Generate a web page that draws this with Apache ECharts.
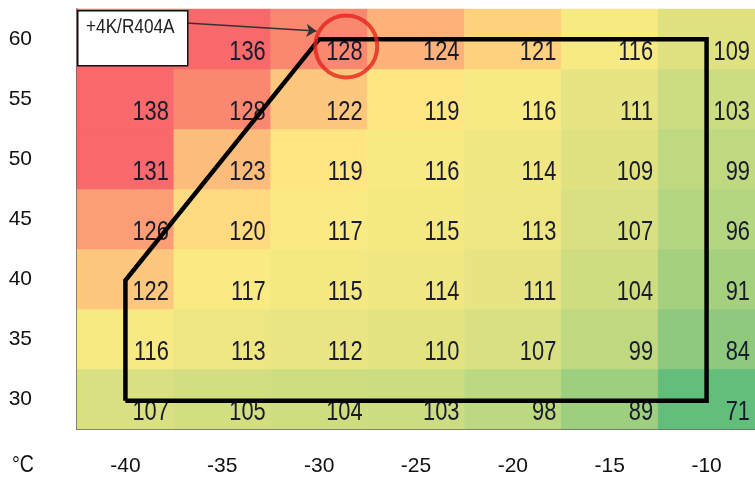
<!DOCTYPE html>
<html>
<head>
<meta charset="utf-8">
<script src="https://cdn.jsdelivr.net/npm/echarts@6/dist/echarts.min.js"></script>
<style>html,body{margin:0;padding:0;background:#fff}#c{width:755px;height:477px}</style>
</head>
<body>
<div id="c"></div>
<script>
// Evaporating temperature (°C) columns and condensing temperature rows
const xCats = ['-40', '-35', '-30', '-25', '-20', '-15', '-10'];
const yCats = ['30', '35', '40', '45', '50', '55', '60'];
// Values per row (left to right); first value of the 60 row is hidden under the label box (estimated)
const v60 = [144, 136, 128, 124, 121, 116, 109];
const v55 = [138, 128, 122, 119, 116, 111, 103];
const v50 = [131, 123, 119, 116, 114, 109, 99];
const v45 = [126, 120, 117, 115, 113, 107, 96];
const v40 = [122, 117, 115, 114, 111, 104, 91];
const v35 = [116, 113, 112, 110, 107, 99, 84];
const v30 = [107, 105, 104, 103, 98, 89, 71];
// Operating envelope outline (evap °C, cond °C)
const envelopeX = [-40, -40, -30, -10, -10, -40];
const envelopeY = [30, 40, 60, 60, 30, 30];
const labelText = '+4K/R404A';
// Annotation: highlighted point and arrow from label
const highlight = [[-28.6, 59.4]];
const arrowFrom = [-36.86, 61.34];
const arrowTo = [-30.14, 60.68];

const rowsBottomUp = [v30, v35, v40, v45, v50, v55, v60];
const heatData = [];
rowsBottomUp.forEach((row, yi) => row.forEach((v, xi) => heatData.push([xi, yi, v])));
const allVals = heatData.map(d => d[2]);
const vMin = Math.min(...allVals), vMax = Math.max(...allVals);

// colour scale: green -> yellow -> red
const G = [99, 190, 123], Y = [255, 235, 132], R = [248, 105, 107];
const yellowAt = 118.5, redAt = 131;
function lerp(a, b, t) { return a.map((x, i) => Math.round(x + (b[i] - x) * t)); }
function colorFor(v) {
  let c;
  if (v <= yellowAt) c = lerp(G, Y, Math.max(0, (v - vMin) / (yellowAt - vMin)));
  else c = lerp(Y, R, Math.min(1, (v - yellowAt) / (redAt - yellowAt)));
  return 'rgb(' + c.join(',') + ')';
}
const stops = [];
for (let v = vMin; v <= vMax; v++) stops.push(colorFor(v));

const FONT = "'Liberation Sans', Arial, sans-serif";
const NARROW = 0.78;
const gridPos = { left: 77, top: 9, width: 682.5, height: 422 };

const chart = echarts.init(document.getElementById('c'));
chart.setOption({
  animation: false,
  grid: [Object.assign({}, gridPos), Object.assign({}, gridPos)],
  xAxis: [
    { type: 'category', data: xCats, gridIndex: 0,
      axisLine: { lineStyle: { color: '#333', width: 1.5 } }, axisTick: { show: false },
      axisLabel: { color: '#111', fontFamily: FONT, fontSize: 21, margin: 27 }, splitLine: { show: false } },
    { type: 'value', gridIndex: 1, min: -42.5, max: -7.5, show: false }
  ],
  yAxis: [
    { type: 'category', data: yCats, gridIndex: 0,
      axisLine: { lineStyle: { color: '#333', width: 1.5 } }, axisTick: { show: false },
      axisLabel: { color: '#111', fontFamily: FONT, fontSize: 21, margin: 45, align: 'right', padding: [4, 0, 0, 0] }, splitLine: { show: false } },
    { type: 'value', gridIndex: 1, min: 27.5, max: 62.5, show: false }
  ],
  visualMap: { show: false, type: 'continuous', min: vMin, max: vMax, dimension: 2, seriesIndex: 0, inRange: { color: stops } },
  graphic: [
    { type: 'rect', left: 77, top: 10, z: 100, shape: { width: 110, height: 55 }, style: { fill: '#fff', stroke: '#111', lineWidth: 1.5 } },
    { type: 'text', x: 86, y: 17, scaleX: 0.82, z: 101, style: { text: labelText, fill: '#222', font: '21px ' + FONT } },
    { type: 'text', x: 12, y: 454, scaleX: 0.85, z: 101, style: { text: '°C', fill: '#111', font: '23px ' + FONT } }
  ],
  series: [
    { type: 'heatmap', xAxisIndex: 0, yAxisIndex: 0, data: heatData, label: { show: false },
      emphasis: { disabled: true } },
    { type: 'custom', xAxisIndex: 0, yAxisIndex: 0, z: 5, data: heatData, encode: { x: 0, y: 1 },
      renderItem: function (params, api) {
        const c = api.coord([api.value(0), api.value(1)]);
        const s = api.size([1, 1]);
        return { type: 'text', x: c[0] + s[0] / 2 - 5, y: c[1] + 13, scaleX: NARROW,
          style: { text: String(api.value(2)), align: 'right', verticalAlign: 'middle', fill: '#1a1a2e', font: '28px ' + FONT } };
      } },
    { type: 'line', xAxisIndex: 1, yAxisIndex: 1, z: 10, symbol: 'none',
      data: envelopeX.map((x, i) => [x, envelopeY[i]]),
      lineStyle: { color: '#000', width: 4.5, join: 'miter' } },
    { type: 'scatter', xAxisIndex: 1, yAxisIndex: 1, z: 11, symbolSize: 62, data: highlight,
      itemStyle: { color: 'rgba(0,0,0,0)', borderColor: '#e3241e', borderWidth: 4 } },
    { type: 'lines', coordinateSystem: 'cartesian2d', xAxisIndex: 1, yAxisIndex: 1, z: 12,
      symbol: ['none', 'arrow'], symbolSize: 10,
      data: [{ coords: [arrowFrom, arrowTo] }],
      lineStyle: { color: '#333', width: 1.5, opacity: 1 } }
  ]
});
</script>
</body>
</html>
